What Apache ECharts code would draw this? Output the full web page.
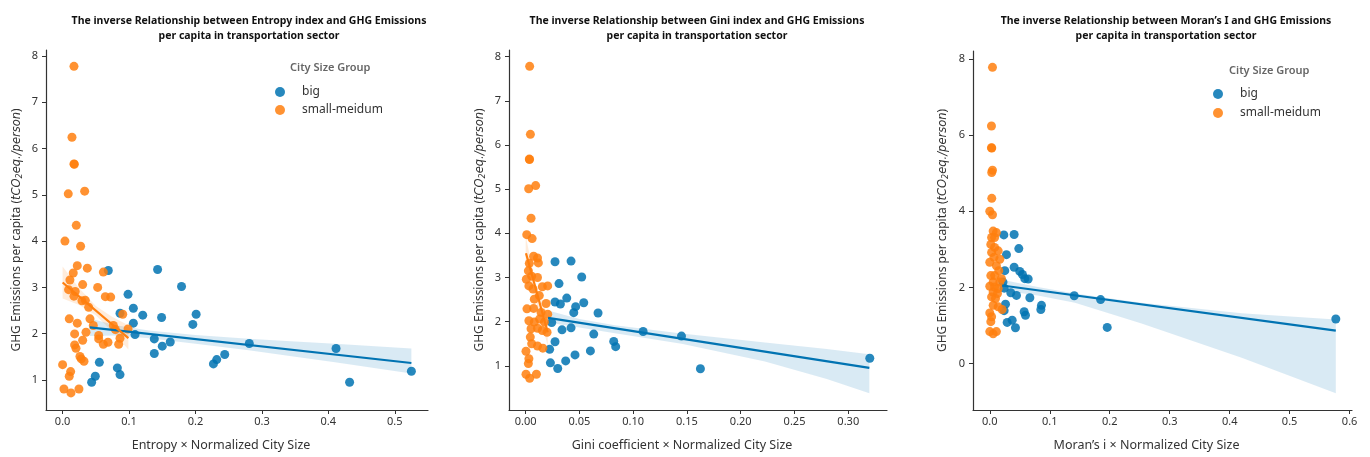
<!DOCTYPE html>
<html>
<head>
<meta charset="utf-8">
<script src="https://cdn.jsdelivr.net/npm/echarts@6/dist/echarts.min.js"></script>
<style>html,body{margin:0;padding:0;background:#fff;}#chart{width:1370px;height:457px;}</style>
</head>
<body>
<div id="chart"></div>
<script>
// ---------- DATA ----------
// Panel 1: Entropy x Normalized City Size
var big1X = [0.0688,0.143,0.179,0.0985,0.1065,0.1206,0.149,0.0864,0.1065,0.201,0.196,0.109,0.138,0.162,0.150,0.138,0.281,0.4116,0.244,0.232,0.227,0.525,0.432,0.0553,0.0492,0.0437,0.0824,0.0864];
var big1Y = [3.365,3.386,3.02,2.85,2.55,2.40,2.35,2.44,2.226,2.42,2.20,1.98,1.887,1.82,1.73,1.57,1.786,1.68,1.55,1.44,1.346,1.187,0.95,1.38,1.08,0.95,1.26,1.115];
var small1X = [0.0171,0.0141,0.0171,0.0176,0.0085,0.0332,0.0206,0.0035,0.0271,0.0221,0.0372,0.0613,0.016,0.011,0.0528,0.0302,0.009,0.019,0.0171,0.0643,0.0724,0.0291,0.0342,0.0392,0.0905,0.0412,0.010,0.0221,0.0462,0.0764,0.0794,0.0985,0.0181,0.0352,0.0543,0.0543,0.0302,0.0864,0.0613,0.0683,0.0844,0.0181,0.0201,0.0261,0.0281,0.0322,0.0,0.0121,0.010,0.002,0.0126,0.0246];
var small1Y = [7.777,6.245,5.669,5.66,5.022,5.079,4.34,4.0,3.89,3.47,3.415,3.33,3.31,3.16,3.0,3.06,2.95,2.91,2.81,2.80,2.79,2.71,2.72,2.57,2.42,2.32,2.32,2.226,2.175,2.175,2.09,2.10,1.995,2.03,1.96,1.887,1.858,1.90,1.77,1.815,1.77,1.757,1.685,1.505,1.454,1.404,1.33,1.18,1.08,0.805,0.72,0.805];
var fit1BigX = [0.041,0.525];
var fit1BigY = [2.136,1.366];
var band1BigX = [0.041,0.08,0.13,0.2,0.28,0.35,0.41,0.525];
var band1BigUp = [2.33,2.18,2.07,1.97,1.89,1.83,1.78,1.68];
var band1BigLo = [1.95,1.96,1.90,1.78,1.64,1.50,1.38,1.14];
var fit1SmallX = [0.0,0.099];
var fit1SmallY = [3.105,1.905];
var band1SmallX = [0.0,0.025,0.05,0.075,0.099];
var band1SmallUp = [3.45,2.98,2.60,2.36,2.18];
var band1SmallLo = [2.76,2.62,2.40,2.04,1.66];

// Panel 2: Gini coefficient x Normalized City Size
var big2X = [0.0273,0.0422,0.0521,0.031,0.0273,0.0323,0.0382,0.0465,0.0447,0.054,0.0673,0.0242,0.0338,0.0422,0.0633,0.1092,0.1449,0.0819,0.0837,0.0273,0.0223,0.0602,0.0459,0.0372,0.023,0.0298,0.1625,0.320];
var big2Y = [3.356,3.371,3.012,2.862,2.444,2.399,2.533,2.339,2.204,2.429,2.197,1.98,1.815,1.86,1.718,1.778,1.673,1.553,1.434,1.546,1.374,1.337,1.247,1.112,1.067,0.94,0.933,1.172];
var small2X = [0.0037,0.0044,0.0034,0.0036,0.0028,0.0093,0.005,0.001,0.006,0.0074,0.011,0.0118,0.0034,0.0025,0.0056,0.0006,0.011,0.003,0.0068,0.0155,0.0205,0.0127,0.008,0.019,0.0012,0.0074,0.0143,0.0205,0.003,0.008,0.013,0.0174,0.005,0.011,0.0155,0.0199,0.0043,0.0056,0.011,0.016,0.0003,0.003,0.0025,0.0003,0.0037,0.01];
var small2Y = [7.78,6.24,5.68,5.67,5.01,5.08,4.34,3.97,3.88,3.48,3.44,3.33,3.32,3.15,3.03,2.96,3.0,2.81,2.74,2.79,2.81,2.59,2.51,2.41,2.29,2.30,2.21,2.17,2.02,1.99,2.06,1.99,1.84,1.85,1.80,1.76,1.65,1.50,1.45,1.40,1.33,1.16,1.05,0.81,0.72,0.81];
var fit2BigX = [0.0208,0.3196];
var fit2BigY = [2.084,0.955];
var band2BigX = [0.0208,0.05,0.083,0.145,0.2225,0.28,0.3196];
var band2BigUp = [2.25,2.06,1.92,1.73,1.53,1.38,1.26];
var band2BigLo = [1.98,1.87,1.74,1.50,1.10,0.70,0.38];
var fit2SmallX = [0.0003,0.0205];
var fit2SmallY = [3.55,1.76];
var band2SmallX = [0.0,0.01,0.0205];
var band2SmallUp = [3.95,2.75,2.15];
var band2SmallLo = [3.15,2.45,1.45];

// Panel 3: Moran's i x Normalized City Size
var big3X = [0.0234,0.0406,0.0484,0.0278,0.025,0.0406,0.05,0.0545,0.0584,0.064,0.035,0.0445,0.0668,0.0262,0.0239,0.0862,0.0851,0.0573,0.0595,0.029,0.0373,0.0428,0.1408,0.1848,0.1958,0.577,0.022,0.024];
var big3Y = [3.38,3.39,3.02,2.86,2.44,2.53,2.42,2.34,2.23,2.22,1.86,1.79,1.73,1.56,1.39,1.53,1.42,1.36,1.27,1.08,1.14,0.94,1.78,1.68,0.95,1.17,2.14,1.98];
var small3X = [0.0045,0.0028,0.0028,0.0033,0.0032,0.0045,0.0033,0.0,0.0045,0.0056,0.011,0.003,0.008,0.0017,0.008,0.014,0.003,0.007,0.0167,0.0,0.011,0.015,0.0017,0.008,0.0195,0.0056,0.0167,0.0,0.008,0.014,0.0056,0.0128,0.003,0.0095,0.0056,0.014,0.0206,0.0,0.003,0.0017,0.0,0.0056,0.011];
var small3Y = [7.78,6.24,5.67,5.66,5.02,5.08,4.34,4.0,3.91,3.48,3.44,3.31,3.31,3.13,3.05,2.96,2.92,2.79,2.74,2.66,2.57,2.44,2.31,2.31,2.23,2.14,2.14,2.03,2.01,1.97,1.88,1.84,1.75,1.71,1.53,1.49,1.42,1.33,1.23,1.10,0.84,0.78,0.84];
var fit3BigX = [0.0206,0.577];
var fit3BigY = [2.05,0.865];
var band3BigX = [0.0206,0.08,0.142,0.253,0.42,0.577];
var band3BigUp = [2.20,2.01,1.84,1.60,1.32,1.16];
var band3BigLo = [1.92,1.79,1.60,1.05,0.15,-0.78];

// Tick labels
var xTicks1 = [0,0.1,0.2,0.3,0.4,0.5];
var xTicks2 = [0,0.05,0.1,0.15,0.2,0.25,0.3];
var xTicks3 = [0,0.1,0.2,0.3,0.4,0.5,0.6];
var yTicks1 = [1,2,3,4,5,6,7,8];
var yTicks2 = [1,2,3,4,5,6,7,8];
var yTicks3 = [0,2,4,6,8];

var titles = [
  'The inverse Relationship between Entropy index and GHG Emissions\nper capita in transportation sector',
  'The inverse Relationship between Gini index and GHG Emissions\nper capita in transportation sector',
  'The inverse Relationship between Moran\u2019s I and GHG Emissions\nper capita in transportation sector'
];
var xNames = ['Entropy \u00d7 Normalized City Size','Gini coefficient \u00d7 Normalized City Size','Moran\u2019s i \u00d7 Normalized City Size'];
var groupNames = ['big','small-meidum'];
var legendTitle = 'City Size Group';

// ---------- STYLE ----------
var BLUE = '#0173b2', ORANGE = '#ff7f0e';
var FONT = 'Noto Sans';
var TEXT = '#333333';

function zip(a,b){ return a.map(function(v,i){ return [v,b[i]]; }); }

function bandSeries(idx, bx, up, lo, color){
  return {
    type:'custom', xAxisIndex:idx, yAxisIndex:idx, silent:true,
    data:[[bx[0], up[0]]],
    renderItem:function(params, api){
      var pts = [];
      for (var i=0;i<bx.length;i++) pts.push(api.coord([bx[i], up[i]]));
      for (var j=bx.length-1;j>=0;j--) pts.push(api.coord([bx[j], lo[j]]));
      return {type:'polygon', shape:{points:pts}, style:{fill:color}};
    }
  };
}
function scatterSeries(idx, name, xs, ys, color){
  return {type:'scatter', name:name, xAxisIndex:idx, yAxisIndex:idx, data:zip(xs,ys),
    symbolSize:9, itemStyle:{color:color, opacity:0.85}};
}
function lineSeries(idx, xs, ys, color){
  return {type:'line', name:'fit', xAxisIndex:idx, yAxisIndex:idx, data:zip(xs,ys),
    showSymbol:false, silent:true, lineStyle:{color:color, width:2.2}};
}

var grids = [
  {left:46, top:50, width:382, height:361},
  {left:509, top:50, width:378, height:363},
  {left:973, top:51, width:379, height:363}
];
var xRanges = [[-0.025,0.55],[-0.0155,0.336],[-0.028,0.604]];
var yRanges = [[0.35,8.13],[0.0,8.15],[-1.22,8.21]];
var xTickSets = [xTicks1,xTicks2,xTicks3];
var yTickSets = [yTicks1,yTicks2,yTicks3];
var xDigits = [1,2,1];
var xNameShift = [32,32,32];

var axisLineStyle = {color:'#333', width:1.2};
var xAxes = [], yAxes = [];
for (var k=0;k<3;k++){
  (function(k){
    xAxes.push({
      type:'value', gridIndex:k, min:xRanges[k][0], max:xRanges[k][1],
      axisLine:{show:true, onZero:false, lineStyle:axisLineStyle},
      axisTick:{show:true, length:4, customValues:xTickSets[k], lineStyle:{color:'#333'}},
      axisLabel:{customValues:xTickSets[k], margin:6, fontSize:11, color:TEXT, fontFamily:FONT,
        formatter:function(v){ return v.toFixed(xDigits[k]); }},
      splitLine:{show:false},
      name:xNames[k], nameLocation:'middle', nameGap:29,
      nameTextStyle:{fontSize:12.5, color:TEXT, fontFamily:FONT, padding:[0,xNameShift[k],0,0]}
    });
    yAxes.push({
      type:'value', gridIndex:k, min:yRanges[k][0], max:yRanges[k][1],
      axisLine:{show:true, onZero:false, lineStyle:axisLineStyle},
      axisTick:{show:true, length:4, customValues:yTickSets[k], lineStyle:{color:'#333'}},
      axisLabel:{customValues:yTickSets[k], margin:8, fontSize:11, color:TEXT, fontFamily:FONT,
        formatter:function(v){ return String(Math.round(v)); }},
      splitLine:{show:false},
      name:'GHG Emissions per capita ({i|tCO}{s|2}{i|eq./person})',
      nameLocation:'middle', nameRotate:90, nameGap:[22,22,23][k],
      nameTextStyle:{fontSize:12, color:TEXT, fontFamily:FONT,
        rich:{
          i:{fontSize:11.5, fontStyle:'italic', fontFamily:'DejaVu Sans', color:TEXT},
          s:{fontSize:8, fontStyle:'italic', fontFamily:'DejaVu Sans', color:TEXT, padding:[6,0,0,0]}
        }}
    });
  })(k);
}

var series = [
  scatterSeries(0, groupNames[0], big1X, big1Y, BLUE),
  bandSeries(0, band1BigX, band1BigUp, band1BigLo, 'rgba(1,115,178,0.15)'),
  lineSeries(0, fit1BigX, fit1BigY, BLUE),
  scatterSeries(0, groupNames[1], small1X, small1Y, ORANGE),
  bandSeries(0, band1SmallX, band1SmallUp, band1SmallLo, 'rgba(255,127,14,0.15)'),
  lineSeries(0, fit1SmallX, fit1SmallY, ORANGE),

  scatterSeries(1, groupNames[0], big2X, big2Y, BLUE),
  bandSeries(1, band2BigX, band2BigUp, band2BigLo, 'rgba(1,115,178,0.15)'),
  lineSeries(1, fit2BigX, fit2BigY, BLUE),
  scatterSeries(1, groupNames[1], small2X, small2Y, ORANGE),
  bandSeries(1, band2SmallX, band2SmallUp, band2SmallLo, 'rgba(255,127,14,0.15)'),
  lineSeries(1, fit2SmallX, fit2SmallY, ORANGE),

  scatterSeries(2, groupNames[0], big3X, big3Y, BLUE),
  bandSeries(2, band3BigX, band3BigUp, band3BigLo, 'rgba(1,115,178,0.15)'),
  lineSeries(2, fit3BigX, fit3BigY, BLUE),
  scatterSeries(2, groupNames[1], small3X, small3Y, ORANGE)
];

var titleStyle = {fontSize:10.5, fontWeight:'bold', color:'#111', fontFamily:FONT, lineHeight:15};
var legendTitleStyle = {fontSize:11, fontWeight:600, color:'#666', fontFamily:FONT};
var option = {
  animation:false,
  backgroundColor:'#fff',
  title:[
    {text:titles[0], left:244, top:9, textAlign:'center', textStyle:titleStyle},
    {text:titles[1], left:692, top:9, textAlign:'center', textStyle:titleStyle},
    {text:titles[2], left:1161, top:9, textAlign:'center', textStyle:titleStyle},
    {text:legendTitle, left:285, top:57, textStyle:legendTitleStyle},
    {text:legendTitle, left:1224, top:60, textStyle:legendTitleStyle}
  ],
  legend:[
    {data:groupNames, orient:'vertical', left:270, top:81, itemWidth:20, itemHeight:10, itemGap:6,
      icon:'circle', textStyle:{fontSize:12, color:TEXT, fontFamily:FONT, padding:[0,0,0,7]}},
    {data:groupNames, orient:'vertical', left:1208, top:83, itemWidth:20, itemHeight:10, itemGap:7,
      icon:'circle', textStyle:{fontSize:12, color:TEXT, fontFamily:FONT, padding:[0,0,0,7]}}
  ],
  grid:grids,
  xAxis:xAxes,
  yAxis:yAxes,
  series:series
};
var chart = echarts.init(document.getElementById('chart'), null, {renderer:'canvas'});
chart.setOption(option);
</script>
</body>
</html>
